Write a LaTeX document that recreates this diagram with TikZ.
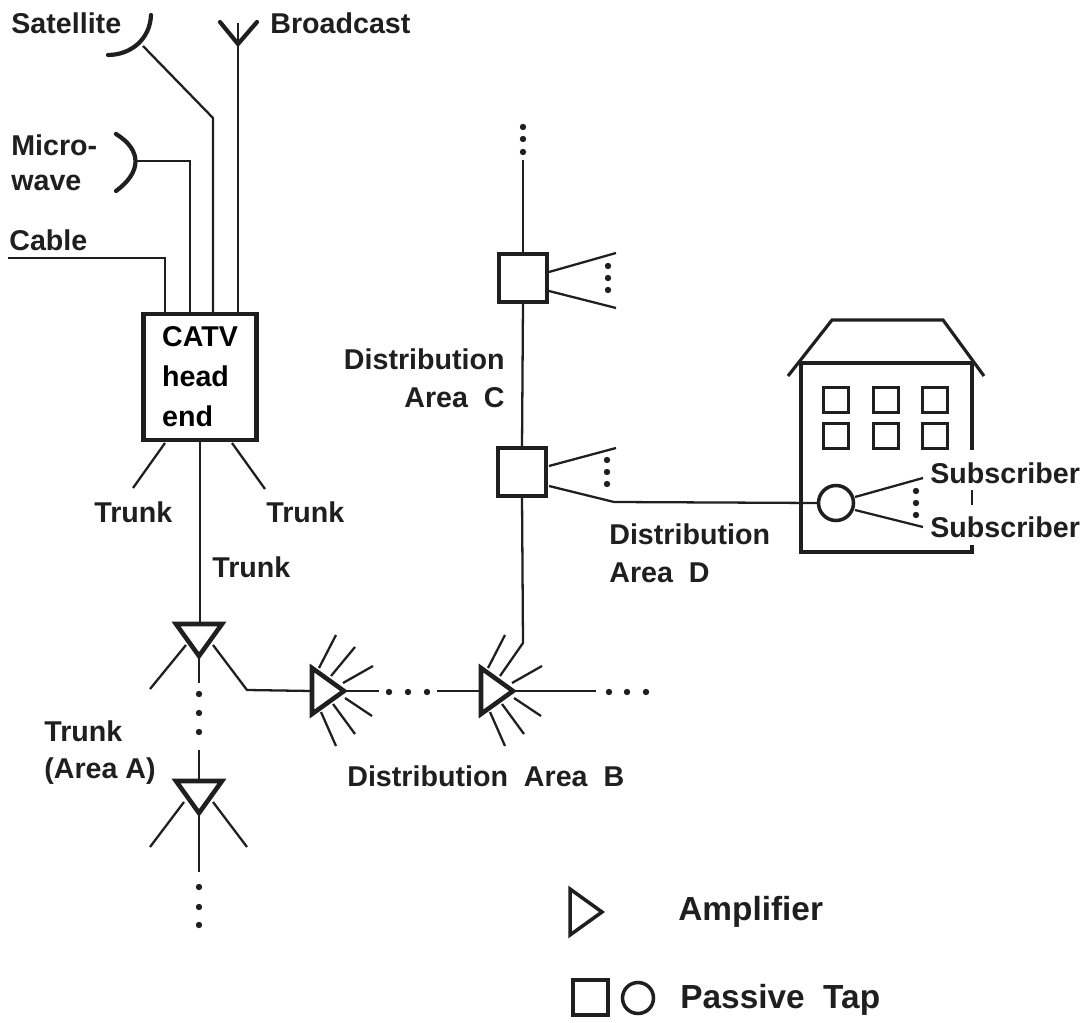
\documentclass[tikz,border=0pt]{standalone}
\usepackage{fontspec}
\setmainfont{Liberation Sans}
\usepackage{xcolor}
\usetikzlibrary{shapes.geometric}

\begin{document}
\begin{tikzpicture}[
    x=0.02cm, y=-0.02cm,
    wire/.style={line width=1.3pt, black!88},
    dish/.style={line width=2.4pt, black!88, line cap=round},
    headend/.style={draw=black!88, line width=2.6pt, minimum width=2.26cm, minimum height=2.52cm, inner sep=0pt, outer sep=0pt, align=left, font=\fontsize{16.3}{22.7}\selectfont\bfseries},
    tapbox/.style={draw=black!88, line width=2.6pt, minimum size=0.96cm, inner sep=0pt, outer sep=0pt},
    taproll/.style={circle, draw=black!88, line width=2pt, minimum size=0.7cm, inner sep=0pt, outer sep=0pt},
    amp/.style={isosceles triangle, isosceles triangle stretches, draw=black!88, line width=2.6pt, minimum width=0.92cm, minimum height=0.64cm, inner sep=0pt, outer sep=0pt, anchor=apex, shape border rotate=#1},
    window/.style={draw=black!88, line width=1.3pt, minimum size=0.5cm, inner sep=0pt},
    lab/.style={anchor=west, inner sep=0pt, text=black!88, align=left, font=\fontsize{16.3}{19.5}\selectfont\bfseries},
    legendlab/.style={lab, font=\fontsize{19}{22}\selectfont\bfseries}
  ]
    \useasboundingbox (0,0) rectangle (1091,1023);

    \node[headend] (catv) at (200,377) {CATV\\head\\end};
    \node[amp=-90] (trunka) at (199,656) {};
    \node[amp=-90] (trunkb) at (199,813) {};
    \node[amp=0] (ampb) at (344,691) {};
    \node[amp=0] (ampc) at (513,691) {};
    \node[tapbox] (tapc) at (523,278) {};
    \node[tapbox] (tapd) at (522,472) {};
    \node[taproll] (tapfl) at (836,503) {};

    \coordinate (satdish) at (143,46);
    \coordinate (satbend) at (213,118);
    \coordinate (bcast) at (238,44);
    \coordinate (micdish) at (137,161);
    \coordinate (micbend) at (190,161);
    \coordinate (cable) at (8,258);
    \coordinate (cablebend) at (165,258);
    \coordinate (trunkbend) at (247,690);

    \draw[dish] (151,15) .. controls (150,40) and (130,55) .. (108,55);
    \draw[dish] (116,134) .. controls (142,150) and (142,172) .. (116,191);
    \draw[dish] (220,22) -- (bcast) -- (257,22);
    \draw[wire] (238,23) -- (bcast |- catv.north);
    \draw[wire] (satdish) -- (satbend) -- (satbend |- catv.north);
    \draw[wire] (micdish) -- (micbend) -- (micbend |- catv.north);
    \draw[wire] (cable) -- (cablebend) -- (cablebend |- catv.north);

    \draw[wire] (catv.south) -- (catv.south |- trunka.north);
    \draw[wire] (165,443) -- (133,488);
    \draw[wire] (232,443) -- (265,489);

    \draw[wire] (186,645) -- (150,689);
    \draw[wire] (213,645) -- (trunkbend) -- (ampb.west);
    \draw[wire] (trunka.apex) -- (199,683);
    \draw[wire] (199,750) -- (trunkb.north);
    \draw[wire] (184,802) -- (150,847);
    \draw[wire] (213,802) -- (247,847);
    \draw[wire] (trunkb.apex) -- (199,872);

    \foreach \amp in {ampb,ampc} {
      \foreach \sx/\sy/\ex/\ey in {-25/-23/-8/-56, -1/-8/29/-25, 1/7/28/25, -11/13/11/43, -23/21/-8/55} {
        \draw[wire] ([shift={(\sx,\sy)}]\amp.apex) -- ([shift={(\ex,\ey)}]\amp.apex);
      }
    }
    \draw[wire] ([shift={(-13,-15)}]ampb.apex) -- ([shift={(11,-44)}]ampb.apex);
    \draw[wire] (ampb.apex) -- ++(35,0);
    \draw[wire] (437,691) -- (ampc.west);
    \draw[wire] (ampc.apex) -- (596,691);
    \draw[wire] ([shift={(-13,-15)}]ampc.apex) -- (523,643) -- (tapd.south);

    \draw[wire] (523,160) -- (tapc.north);
    \draw[wire] (tapc.south) -- (tapd.north);

    \draw[wire] (549,272) -- (616,253);
    \draw[wire] (549,291) -- (616,308);
    \draw[wire] (549,466) -- (616,448);
    \draw[wire] (549,486) -- (614,502) -- (tapfl.west);
    \draw[wire] (855,497) -- (923,478);
    \draw[wire] (855,510) -- (923,527);

    \foreach \x/\y in {199/694, 199/713, 199/732, 199/887, 199/907, 199/925,
        389/692, 408/692, 427/692, 609/692, 627/692, 646/692,
        523/127, 523/139, 523/152, 608/266, 608/278, 608/290,
        607/460, 607/472, 607/484, 916/491, 916/503, 916/515} {
      \fill[black!88] (\x,\y) circle (3.2);
    }

    \draw[wire, line width=1.8pt] (788,376) -- (832,320) -- (943,320) -- (984,376);
    \draw[wire, line width=1.8pt] (972,450) -- (972,363) -- (801,363) -- (801,552) -- (972,552) -- (972,545);
    \draw[wire] (972,490) -- (972,505);
    \foreach \x in {836,886,935} {
      \foreach \y in {400,436} {
        \node[window] (win\x\y) at (\x,\y) {};
      }
    }

    \node[amp=0, line width=2pt] (legendamp) at (602,912) {};
    \node[tapbox, minimum size=0.7cm, line width=2pt] (legendbox) at (590.5,997.5) {};
    \node[taproll, minimum size=0.62cm] (legendroll) at (638,998) {};

    \node[lab] (satlab) at (11,23) {Satellite};
    \node[lab] (bcastlab) at (270,23) {Broadcast};
    \node[lab] (miclab1) at (11,145) {Micro-};
    \node[lab] (miclab2) at (11,183) {wave};
    \node[lab] (cablelab) at (9,240) {Cable};
    \node[lab] (trunklab1) at (94,512) {Trunk};
    \node[lab] (trunklab2) at (266,512) {Trunk};
    \node[lab] (trunklab3) at (212,567) {Trunk};
    \node[lab] (arealaba) at (44,753) {Trunk\\[1.5pt](Area A)};
    \node[lab, anchor=east, align=right] (arealabc) at (505,378) {Distribution\\[2pt]Area\ \ C};
    \node[lab] (arealabd) at (609,553) {Distribution\\[2pt]Area\ \ D};
    \node[lab] (arealabb) at (347,776) {Distribution\ \ Area\ \ B};
    \node[lab] (sublab1) at (930,473) {Subscriber};
    \node[lab] (sublab2) at (930,527) {Subscriber};
    \node[legendlab] (legendlab1) at (678,912) {Amplifier};
    \node[legendlab] (legendlab2) at (680,1000) {Passive\ \ Tap};
  \end{tikzpicture}
\end{document}
